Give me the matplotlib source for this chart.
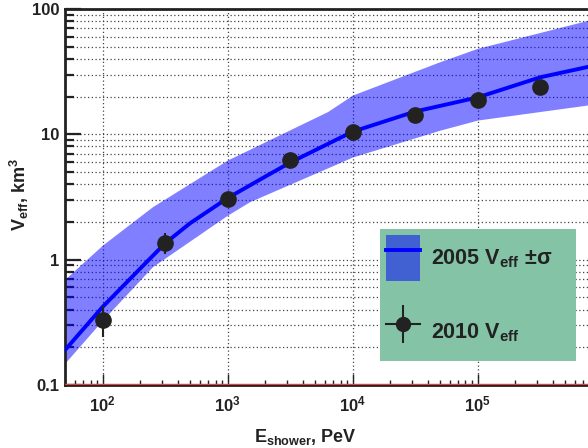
import matplotlib
matplotlib.use("Agg")
import matplotlib.pyplot as plt
from matplotlib.lines import Line2D
from matplotlib.patches import Rectangle
from matplotlib.ticker import LogLocator, NullFormatter

plt.rcParams['font.family'] = ['Liberation Sans', 'DejaVu Sans']
plt.rcParams['font.weight'] = 'bold'
plt.rcParams['mathtext.fontset'] = 'custom'
plt.rcParams['mathtext.rm'] = 'Liberation Sans:bold'
plt.rcParams['mathtext.it'] = 'Liberation Sans:bold'
plt.rcParams['mathtext.bf'] = 'Liberation Sans:bold'

# 2010 measured points
E_pts = [1e2, 3.16e2, 1e3, 3.16e3, 1e4, 3.16e4, 1e5, 3.16e5]
V_pts = [0.33, 1.36, 3.05, 6.25, 10.5, 14.3, 18.8, 23.9]
err_lo = [0.09, 0.25, 0.3, 0.6, 1.0, 1.3, 1.7, 2.2]
err_hi = [0.10, 0.26, 0.3, 0.6, 1.0, 1.3, 1.7, 2.2]

# 2005 curve
E_fit = [50, 100, 200, 316, 500, 1000, 2000, 3162, 1e4, 3.16e4, 1e5, 3.16e5, 1e6]
V_fit = [0.19, 0.42, 0.85, 1.35, 1.95, 3.1, 4.6, 5.95, 10.5, 15.2, 19.7, 28.5, 36.6]

# 2005 +- sigma band
E_band = [50, 100, 251, 1000, 1500, 6310, 1e4, 5e4, 1e5, 1e6]
V_up = [0.70, 1.31, 2.65, 6.25, 7.6, 15.2, 20.6, 38, 48.6, 87]
V_lo = [0.15, 0.33, 0.88, 2.27, 2.9, 5.4, 6.6, 10.8, 13.0, 17.8]

W, H = 588, 448
fig = plt.figure(figsize=(W / 100, H / 100), dpi=100)
ax = fig.add_axes([65 / W, (H - 385) / H, 537.6 / W, 376 / H])
ax.set_xscale('log')
ax.set_yscale('log')
ax.set_xlim(50, 1e6)
ax.set_ylim(0.1, 100)

ax.yaxis.set_minor_locator(LogLocator(base=10, subs=range(2, 10)))
ax.xaxis.set_minor_locator(LogLocator(base=10, subs=range(2, 10)))
ax.yaxis.set_minor_formatter(NullFormatter())
ax.xaxis.set_minor_formatter(NullFormatter())
ax.set_yticks([0.1, 1, 10, 100])
ax.set_yticklabels(['0.1', '1', '10', '100'])
ax.set_xticks([1e2, 1e3, 1e4, 1e5])

grid_style = dict(color='#444444', linestyle=(0, (1, 2)), linewidth=0.9)
ax.grid(True, which='major', axis='both', **grid_style)
ax.grid(True, which='minor', axis='y', **grid_style)
ax.set_axisbelow(True)

band = ax.fill_between(E_band, V_lo, V_up, color='#0000ff', alpha=0.5,
                       linewidth=0, zorder=2)
line, = ax.plot(E_fit, V_fit, color='#0000ff', lw=2.8, zorder=3)
ax.errorbar(E_pts, V_pts, yerr=[err_lo, err_hi], fmt='o', color='#222222',
            ms=11, elinewidth=1.5, capsize=0, zorder=4)
ax.axhline(0.102, color='#e04040', lw=1.0, zorder=5)

for side in ['left', 'bottom', 'top']:
    ax.spines[side].set_linewidth(2.0)
    ax.spines[side].set_color('#222222')
ax.spines['right'].set_visible(False)

ax.tick_params(axis='y', which='major', direction='in', length=11.5, width=1.6,
               labelsize=12, pad=4, colors='#222222')
ax.tick_params(axis='y', which='minor', direction='in', length=6.5, width=1.6,
               colors='#222222')
ax.tick_params(axis='x', which='major', direction='in', length=8, width=1.0,
               labelsize=12, pad=7, colors='#222222')
ax.tick_params(axis='x', which='minor', direction='in', length=3.6, width=1.0,
               colors='#222222')

fig.text(305 / W, 1 - 437 / H, r'E$_{\rm shower}$, PeV', fontsize=13,
         fontweight='bold', color='#222222', ha='center', va='center')
fig.text(19 / W, 1 - 195 / H, r'V$_{\rm eff}$, km$^{\rm 3}$', fontsize=13,
         fontweight='bold', color='#222222', ha='center', va='center',
         rotation=90)

# legend background box
fig.patches.append(Rectangle((380 / W, 1 - 361 / H), 196 / W, 132 / H,
                             transform=fig.transFigure, facecolor='#84c3a6',
                             edgecolor='none', zorder=5))

dot = Line2D([], [], color='#222222', marker='o', ms=10, lw=1.5)
vbar = Line2D([], [], color='#222222', marker='|', ms=28, mew=1.5, ls='none')
leg = fig.legend([(band, line), (dot, vbar)],
                 [r'2005 V$_{\rm eff}$ $\pm\sigma$', r'2010 V$_{\rm eff}$'],
                 loc='center left', bbox_to_anchor=(386 / W, 1 - 295 / H),
                 bbox_transform=fig.transFigure,
                 fontsize=15.5, frameon=False,
                 handlelength=1.6, handleheight=2.9, labelspacing=1.3,
                 borderpad=0, handletextpad=0.5, borderaxespad=0)
leg.set_zorder(6)
for t in leg.get_texts():
    t.set_color('#222222')

fig.savefig('out.png', dpi=100)
